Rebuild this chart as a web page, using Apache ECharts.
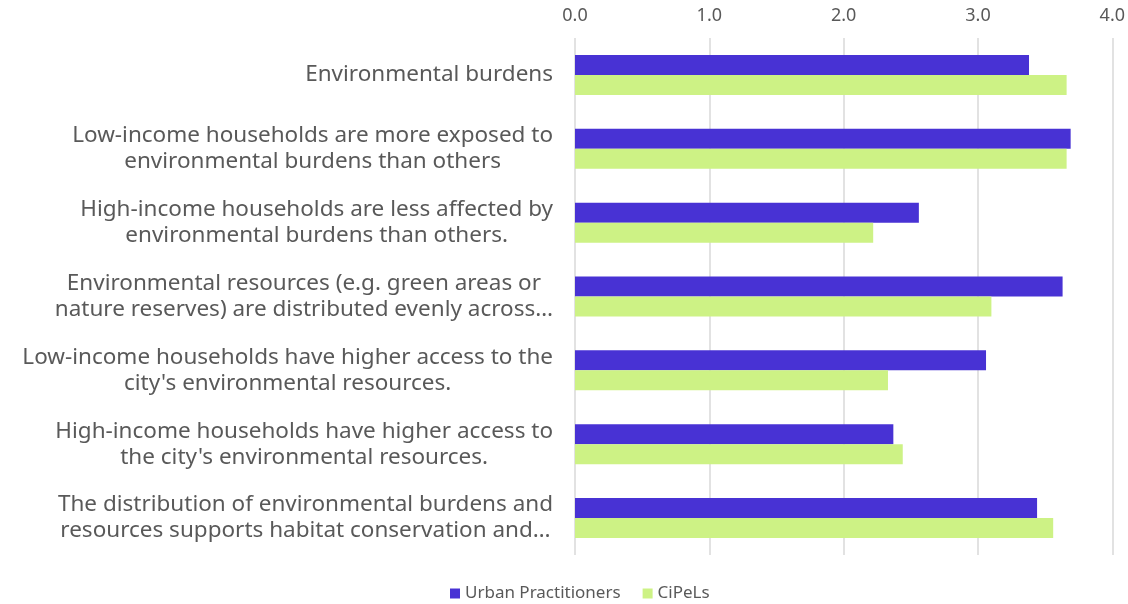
<!DOCTYPE html>
<html>
<head>
<meta charset="utf-8">
<script src="https://cdn.jsdelivr.net/npm/echarts@6/dist/echarts.min.js"></script>
<style>
  html, body { margin: 0; padding: 0; background: #fff; }
  #chart { width: 1128px; height: 604px; }
</style>
</head>
<body>
<div id="chart"></div>
<script>
// Survey statements (each line of a label is one entry)
const categories = [
  ["Environmental burdens"],
  ["Low-income households are more exposed to", "environmental burdens than others"],
  ["High-income households are less affected by", "environmental burdens than others."],
  ["Environmental resources (e.g. green areas or", "nature reserves) are distributed evenly across…"],
  ["Low-income households have higher access to the", "city's environmental resources."],
  ["High-income households have higher access to", "the city's environmental resources."],
  ["The distribution of environmental burdens and", "resources supports habitat conservation and…"]
];
const seriesNames = ["Urban Practitioners", "CiPeLs"];
const urbanPractitioners = [3.38, 3.69, 2.56, 3.63, 3.06, 2.37, 3.44];
const cipels = [3.66, 3.66, 2.22, 3.10, 2.33, 2.44, 3.56];
const xTicks = [0, 1, 2, 3, 4];

const labelFont = "Noto Sans";
const textColor = "#595959";

const chart = echarts.init(document.getElementById("chart"), null, { renderer: "canvas" });
chart.setOption({
  animation: false,
  backgroundColor: "#ffffff",
  color: ["#4832D4", "#CDF285"],
  grid: { left: 575, right: 15, top: 38, bottom: 49, containLabel: false },
  legend: {
    data: seriesNames,
    bottom: -3,
    left: 445,
    itemWidth: 10,
    itemHeight: 10,
    itemGap: 22,
    icon: "rect",
    textStyle: { color: textColor, fontSize: 17, fontFamily: labelFont }
  },
  xAxis: {
    type: "value",
    position: "top",
    min: xTicks[0],
    max: xTicks[xTicks.length - 1],
    interval: 1,
    axisLine: { show: false },
    axisTick: { show: false },
    splitLine: { lineStyle: { color: "#d9d9d9", width: 1.5 } },
    axisLabel: {
      margin: 13,
      color: textColor,
      fontSize: 18,
      fontFamily: labelFont,
      formatter: v => v.toFixed(1)
    }
  },
  yAxis: {
    type: "category",
    inverse: true,
    data: categories.map(c => c.join("\n")),
    axisLine: { show: false },
    axisTick: { show: false },
    axisLabel: {
      margin: 22,
      align: "right",
      color: textColor,
      fontSize: 22.5,
      fontFamily: labelFont,
      lineHeight: 26,
      formatter: v => v.split("\n").map(l => "{c|" + l + "}").join("\n"),
      rich: {
        c: { align: "center", color: textColor, fontSize: 22.5, fontFamily: labelFont, lineHeight: 26 }
      }
    }
  },
  series: [
    {
      name: seriesNames[0],
      type: "bar",
      data: urbanPractitioners,
      barWidth: 20,
      barGap: "0%"
    },
    {
      name: seriesNames[1],
      type: "bar",
      data: cipels,
      barWidth: 20,
      barGap: "0%"
    }
  ]
});
</script>
</body>
</html>
